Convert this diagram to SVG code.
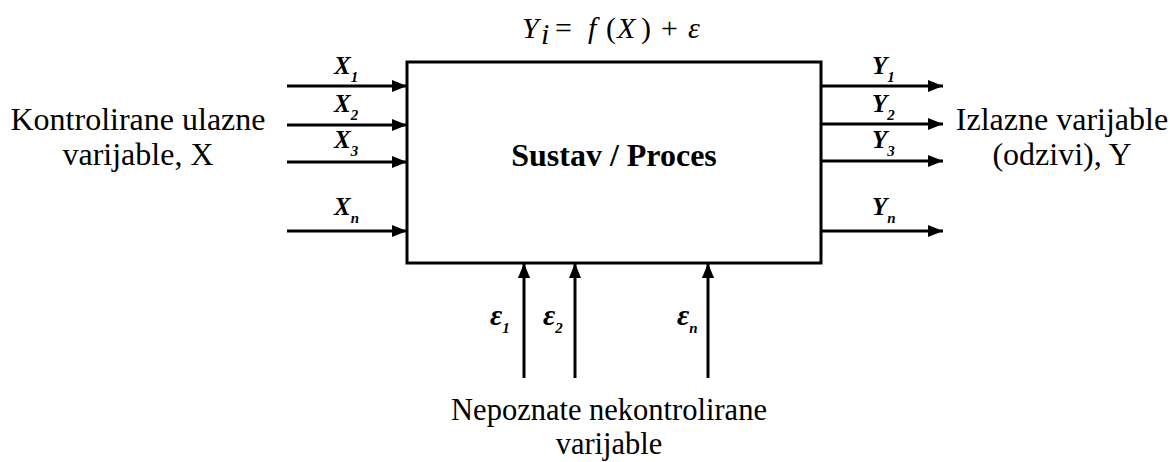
<svg xmlns="http://www.w3.org/2000/svg" width="1172" height="462" viewBox="0 0 1172 462">
<style>
.t{font-family:"Liberation Serif","Times New Roman",serif;font-size:32px;fill:#000}
.tb{font-size:30.5px}
.b{font-weight:bold}
.v{font-family:"Liberation Serif","Times New Roman",serif;font-size:25px;font-weight:bold;font-style:italic;fill:#000}
.e{font-size:30px}
.s{font-size:15px}
.m{font-family:"Liberation Serif","Times New Roman",serif;font-size:30px;fill:#000}
.i{font-style:italic}
.ln{stroke:#000;stroke-width:3;fill:none}
</style>
<defs>
<marker id="ah" viewBox="0 0 15 12" refX="15" refY="6" markerWidth="15" markerHeight="12" markerUnits="userSpaceOnUse" orient="auto">
<path d="M0,0 L15,6 L0,12 Z" fill="#000"/>
</marker>
</defs>
<g id="formula">
<text class="m i" x="522" y="38">Y</text>
<text class="m i" x="541" y="44" font-size="18">i</text>
<text class="m" x="555" y="38">=</text>
<text class="m i" x="588" y="38">f</text>
<text class="m" x="606" y="38">(</text>
<text class="m i" x="617" y="38">X</text>
<text class="m" x="641" y="38">)</text>
<text class="m" x="661" y="38">+</text>
<text class="m i" x="688" y="38">ε</text>
</g>
<g id="process">
<rect x="407" y="62" width="414" height="201" class="ln"/>
<text class="t b" x="614" y="166" text-anchor="middle">Sustav / Proces</text>
</g>
<g id="inputs">
<text class="t" x="138" y="130" text-anchor="middle">Kontrolirane ulazne</text>
<text class="t" x="138" y="165" text-anchor="middle">varijable, X</text>
</g>
<g id="outputs">
<text class="t" x="1062" y="130" text-anchor="middle">Izlazne varijable</text>
<text class="t" x="1062" y="165" text-anchor="middle">(odzivi), Y</text>
</g>
<g id="disturbances">
<text class="t tb" x="609" y="420" text-anchor="middle">Nepoznate nekontrolirane</text>
<text class="t tb" x="609" y="454" text-anchor="middle">varijable</text>
</g>
<g id="connectors">
<line x1="287" y1="86" x2="407" y2="86" class="ln" marker-end="url(#ah)"/>
<line x1="287" y1="125" x2="407" y2="125" class="ln" marker-end="url(#ah)"/>
<line x1="287" y1="162" x2="407" y2="162" class="ln" marker-end="url(#ah)"/>
<line x1="287" y1="231" x2="407" y2="231" class="ln" marker-end="url(#ah)"/>
<line x1="821" y1="86" x2="943" y2="86" class="ln" marker-end="url(#ah)"/>
<line x1="821" y1="124" x2="943" y2="124" class="ln" marker-end="url(#ah)"/>
<line x1="821" y1="161" x2="943" y2="161" class="ln" marker-end="url(#ah)"/>
<line x1="821" y1="231" x2="943" y2="231" class="ln" marker-end="url(#ah)"/>
<line x1="524" y1="378" x2="524" y2="263" class="ln" marker-end="url(#ah)"/>
<line x1="575" y1="378" x2="575" y2="263" class="ln" marker-end="url(#ah)"/>
<line x1="708" y1="378" x2="708" y2="263" class="ln" marker-end="url(#ah)"/>
</g>
<g id="labels">
<text class="v" x="334" y="74">X<tspan class="s" dy="8">1</tspan></text>
<text class="v" x="334" y="112">X<tspan class="s" dy="8">2</tspan></text>
<text class="v" x="334" y="148">X<tspan class="s" dy="8">3</tspan></text>
<text class="v" x="334" y="215">X<tspan class="s" dy="8">n</tspan></text>
<text class="v" x="872" y="74">Y<tspan class="s" dy="8">1</tspan></text>
<text class="v" x="872" y="112">Y<tspan class="s" dy="8">2</tspan></text>
<text class="v" x="872" y="148">Y<tspan class="s" dy="8">3</tspan></text>
<text class="v" x="872" y="215">Y<tspan class="s" dy="8">n</tspan></text>
<text class="v e" x="490" y="325">ε<tspan class="s" dy="8">1</tspan></text>
<text class="v e" x="543" y="325">ε<tspan class="s" dy="8">2</tspan></text>
<text class="v e" x="677" y="325">ε<tspan class="s" dy="8">n</tspan></text>
</g>
</svg>
